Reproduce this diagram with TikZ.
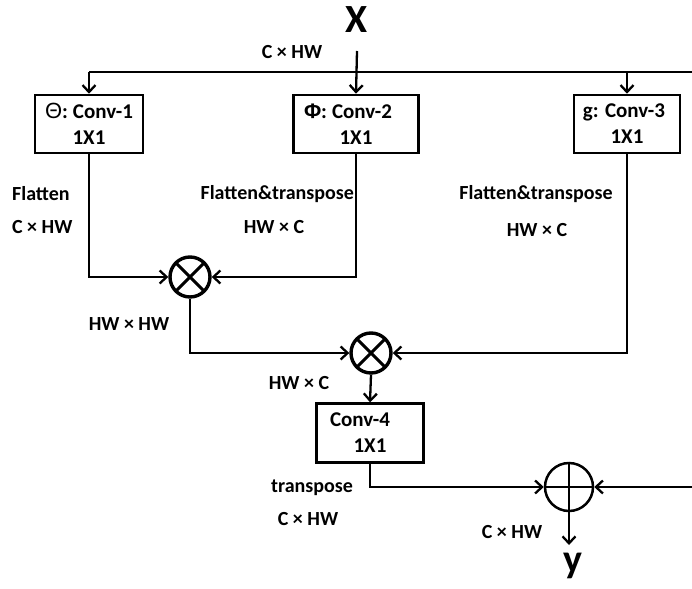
\documentclass[tikz,border=0pt]{standalone}
\usepackage{fontspec}
\setmainfont{Carlito}
\newfontfamily\grk{Liberation Sans}
\usetikzlibrary{arrows.meta}
\newcommand{\tms}{\kern4.5pt×\kern4.5pt}
\begin{document}
\begin{tikzpicture}[x=1pt,y=-1pt,
  line width=2.3pt,
  arr/.style={-{Straight Barb[length=7pt,width=13pt,line width=2.3pt]}},
  convbox/.style={draw,line width=2.5pt,minimum height=58pt,inner sep=0pt,align=center,
     font=\fontsize{21}{26}\selectfont\bfseries},
  lbl/.style={inner sep=0pt,font=\fontsize{20}{24}\selectfont\bfseries},
  big/.style={inner sep=0pt,font=\fontsize{40}{40}\selectfont\bfseries},
  otim/.style={circle,draw,line width=3.4pt,minimum size=40pt,inner sep=0pt,
     path picture={\draw[line width=3pt]
        (path picture bounding box.south west) -- (path picture bounding box.north east)
        (path picture bounding box.north west) -- (path picture bounding box.south east);}},
  oplu/.style={circle,draw,line width=2.5pt,minimum size=48pt,inner sep=0pt,
     path picture={\draw[line width=2.5pt]
        (path picture bounding box.north) -- (path picture bounding box.south)
        (path picture bounding box.west) -- (path picture bounding box.east);}}
]
\useasboundingbox (0,0) rectangle (692,588);

% input / output
\node[big] (X) at (357,20) {X};
\coordinate (xs) at (357,51);
\node[big] (Y) at (573,566) {y};

% conv boxes
\node[convbox,minimum width=108pt] (c1) at (89,124) {{\grk\mdseries\fontsize{22}{26}\selectfont Θ}:\kern5pt Conv-1\\1X1};
\node[convbox,minimum width=125pt] (c2) at (356,124) {{\grk\fontsize{21}{26}\selectfont Φ}:\kern5pt Conv-2\kern16pt\\1X1};
\node[convbox,minimum width=106pt] (c3) at (627,124) {g: Conv-3\kern6pt\\1X1};
\node[convbox,minimum width=107pt,minimum height=59pt] (c4) at (370,433) {Conv-4\kern20pt\\1X1};

% operators
\node[otim] (m1) at (190,277) {};
\node[otim] (m2) at (371,353) {};
\node[oplu] (p1) at (569,487) {};

% top distribution
\coordinate (tl) at (89,72);
\coordinate (tr) at (697,72);
\coordinate (rr) at (697,487);
\draw (tl) -- (tr) -- (rr);
\draw[arr] (tl) -- (c1.north);
\draw[arr] (xs) -- (c2.north);
\draw[arr] (627,72) -- (c3.north);
\draw[arr] (rr) -- (p1.east);

% connections
\draw[arr] (c1.south) |- (m1.west);
\draw[arr] (c2.south) |- (m1.east);
\draw[arr] (m1.south) |- (m2.west);
\draw[arr] (c3.south) |- (m2.east);
\draw[arr] (m2.south) -- (c4.north);
\draw[arr] (c4.south) |- (p1.west);
\coordinate (ye) at (569,545);
\draw[arr] (p1.south) -- (ye);

% labels
\node[lbl] (l0) at (292,52) {C\tms HW};
\node[lbl,anchor=west] (l1) at (11,194) {Flatten};
\node[lbl,anchor=west] (l2) at (11,227) {C\tms HW};
\node[lbl,anchor=east] (l3) at (355,194) {Flatten\&transpose};
\node[lbl] (l4) at (274,227) {HW\tms C};
\node[lbl] (l5) at (536,194) {Flatten\&transpose};
\node[lbl] (l6) at (537,230) {HW\tms C};
\node[lbl] (l7) at (129,324) {HW\tms HW};
\node[lbl] (l8) at (299,383) {HW\tms C};
\node[lbl] (l9) at (312,488) {transpose};
\node[lbl] (l10) at (308,519) {C\tms HW};
\node[lbl] (l11) at (512,532) {C\tms HW};
\end{tikzpicture}
\end{document}
